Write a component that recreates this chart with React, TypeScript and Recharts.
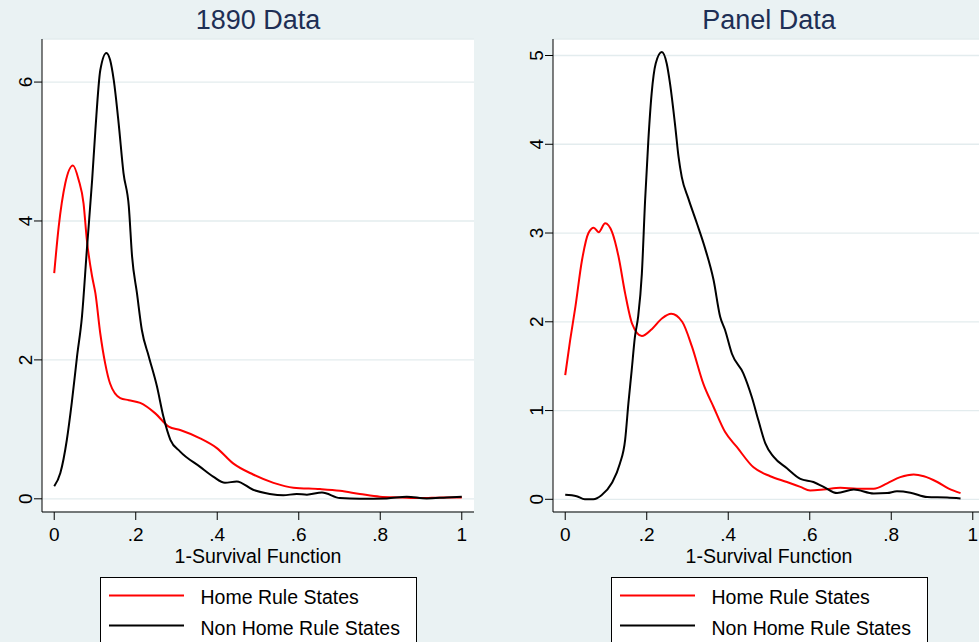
import React from "react";
import { LineChart, Line, XAxis, YAxis, CartesianGrid, Legend } from "recharts";

// x = 1-survival function, y = kernel density
const home1890X = [0, 0.011, 0.027, 0.046, 0.06, 0.072, 0.08, 0.093, 0.101, 0.113, 0.125, 0.137, 0.162, 0.183, 0.211, 0.248, 0.281, 0.309, 0.358, 0.399, 0.439, 0.488, 0.538, 0.587, 0.652, 0.701, 0.75, 0.799, 0.849, 0.898, 0.955, 1.0];
const home1890Y = [3.25, 3.92, 4.54, 4.8, 4.59, 4.25, 3.73, 3.2, 2.96, 2.38, 1.95, 1.66, 1.45, 1.42, 1.38, 1.23, 1.04, 0.99, 0.87, 0.73, 0.51, 0.35, 0.23, 0.16, 0.14, 0.115, 0.07, 0.03, 0.02, 0.01, 0.02, 0.02];

const nonHome1890X = [0, 0.015, 0.031, 0.043, 0.056, 0.068, 0.08, 0.093, 0.101, 0.113, 0.128, 0.137, 0.146, 0.158, 0.17, 0.183, 0.191, 0.203, 0.215, 0.232, 0.252, 0.268, 0.285, 0.309, 0.358, 0.39, 0.419, 0.448, 0.488, 0.529, 0.562, 0.595, 0.62, 0.657, 0.701, 0.75, 0.816, 0.865, 0.914, 0.963, 1.0];
const nonHome1890Y = [0.18, 0.37, 0.85, 1.38, 2.05, 2.62, 3.58, 4.59, 5.31, 6.17, 6.42, 6.32, 6.03, 5.41, 4.69, 4.21, 3.49, 2.96, 2.43, 2.05, 1.62, 1.18, 0.85, 0.68, 0.46, 0.32, 0.23, 0.25, 0.13, 0.07, 0.05, 0.07, 0.06, 0.09, 0.01, 0.0, 0.005, 0.03, 0.005, 0.02, 0.03];

const homePanelX = [0, 0.012, 0.025, 0.041, 0.057, 0.07, 0.082, 0.098, 0.115, 0.131, 0.147, 0.164, 0.188, 0.213, 0.238, 0.26, 0.287, 0.311, 0.339, 0.364, 0.392, 0.421, 0.462, 0.503, 0.544, 0.577, 0.601, 0.634, 0.675, 0.716, 0.757, 0.79, 0.822, 0.855, 0.88, 0.913, 0.941, 0.97];
const homePanelY = [1.4, 1.79, 2.17, 2.69, 3.0, 3.06, 3.01, 3.11, 3.01, 2.73, 2.32, 1.98, 1.84, 1.92, 2.04, 2.09, 2.0, 1.72, 1.3, 1.04, 0.76, 0.59, 0.36, 0.26, 0.195, 0.14, 0.1, 0.11, 0.13, 0.12, 0.12, 0.18, 0.25, 0.28, 0.26, 0.195, 0.12, 0.07];

const nonHomePanelX = [0, 0.028, 0.048, 0.069, 0.089, 0.114, 0.134, 0.147, 0.155, 0.163, 0.171, 0.179, 0.188, 0.196, 0.204, 0.212, 0.222, 0.237, 0.249, 0.257, 0.27, 0.278, 0.286, 0.302, 0.323, 0.343, 0.364, 0.38, 0.392, 0.409, 0.437, 0.458, 0.474, 0.491, 0.511, 0.544, 0.577, 0.609, 0.634, 0.667, 0.708, 0.757, 0.79, 0.814, 0.847, 0.888, 0.937, 0.97];
const nonHomePanelY = [0.05, 0.035, 0.0, 0.0, 0.045, 0.18, 0.4, 0.67, 1.08, 1.45, 1.83, 2.06, 2.54, 3.37, 4.05, 4.57, 4.91, 5.04, 4.91, 4.69, 4.2, 3.86, 3.63, 3.39, 3.11, 2.83, 2.47, 2.06, 1.91, 1.64, 1.42, 1.15, 0.89, 0.63, 0.48, 0.35, 0.23, 0.195, 0.14, 0.07, 0.11, 0.065, 0.07, 0.09, 0.075, 0.026, 0.02, 0.01];

const xTicks = [0, 0.2, 0.4, 0.6, 0.8, 1];
const yTicks1890 = [0, 2, 4, 6];
const yTicksPanel = [0, 1, 2, 3, 4, 5];

const seriesNames = ["Home Rule States", "Non Home Rule States"];

const FONT = '"Liberation Sans", Arial, Helvetica, sans-serif';
const BG = "#EAF2F3";
const TITLE_COLOR = "#1E2F55";

const zip = (xs: number[], ys: number[]) => xs.map((x, i) => ({ x, y: ys[i] }));

const fmtX = (v: number) => (v === 0 ? "0" : v === 1 ? "1" : String(v).replace(/^0/, ""));

function YTick(props: any) {
  const { x, y, payload } = props;
  const bx = x + 7;
  return (
    <text
      x={bx}
      y={y}
      transform={`rotate(-90 ${bx} ${y})`}
      textAnchor="middle"
      fontSize={19}
      fill="#000"
    >
      {payload.value}
    </text>
  );
}

function LegendBox(props: any) {
  const items = props.payload || [];
  return (
    <div
      style={{
        width: 317,
        height: 80,
        boxSizing: "border-box",
        border: "1px solid #000",
        background: "#fff",
      }}
    >
      <svg width={315} height={78} style={{ display: "block" }}>
        {items.map((item: any, i: number) => (
          <g key={item.value}>
            <line x1={8} x2={83} y1={17.5 + i * 30} y2={17.5 + i * 30} stroke={item.color} strokeWidth={2} />
            <text x={99.5} y={25.8 + i * 31} fontSize={19.5} fill="#000" fontFamily={FONT}>
              {item.value}
            </text>
          </g>
        ))}
      </svg>
    </div>
  );
}

interface PanelProps {
  title: string;
  left: number;
  width: number;
  yAxisWidth: number;
  marginRight: number;
  yDomain: [number, number];
  yTicks: number[];
  home: { x: number; y: number }[];
  nonHome: { x: number; y: number }[];
}

function Panel({ title, left, width, yAxisWidth, marginRight, yDomain, yTicks, home, nonHome }: PanelProps) {
  const plotCenter = yAxisWidth + 216;
  return (
    <div style={{ position: "absolute", left, top: 0, width, height: 642 }}>
      <div
        style={{
          position: "absolute",
          left: plotCenter - 150,
          width: 300,
          top: 7,
          textAlign: "center",
          fontSize: 27,
          lineHeight: "27px",
          color: TITLE_COLOR,
        }}
      >
        {title}
      </div>
      <LineChart
        width={width}
        height={642}
        margin={{ top: 39, right: marginRight, left: 0, bottom: 70 }}
      >
        <CartesianGrid
          vertical={false}
          stroke="#E3ECEE"
          strokeWidth={1.3}
          fill="#fff"
          fillOpacity={1}
        />
        <XAxis
          dataKey="x"
          type="number"
          domain={[-0.03, 1.03]}
          ticks={xTicks}
          allowDataOverflow
          tickFormatter={fmtX}
          height={60}
          tickSize={8}
          tickMargin={8}
          stroke="#000"
          tick={{ fill: "#000", fontSize: 19 }}
          label={{ value: "1-Survival Function", position: "insideBottom", offset: 9.5, fill: "#000", fontSize: 19.5 }}
        />
        <YAxis
          type="number"
          domain={yDomain}
          ticks={yTicks}
          allowDataOverflow
          width={yAxisWidth}
          tickSize={8}
          tickMargin={9}
          stroke="#000"
          tick={<YTick />}
        />
        <Line
          data={home}
          dataKey="y"
          name={seriesNames[0]}
          type="monotone"
          stroke="#FF0000"
          strokeWidth={2}
          dot={false}
          isAnimationActive={false}
        />
        <Line
          data={nonHome}
          dataKey="y"
          name={seriesNames[1]}
          type="monotone"
          stroke="#000000"
          strokeWidth={2}
          dot={false}
          isAnimationActive={false}
        />
        <Legend
          layout="vertical"
          align="center"
          verticalAlign="middle"
          content={<LegendBox />}
          wrapperStyle={{ left: plotCenter - 158.5, top: 576.7, width: 317, height: 80 }}
        />
      </LineChart>
    </div>
  );
}

export default function App() {
  return (
    <div
      style={{
        position: "absolute",
        left: 0,
        top: 0,
        width: 979,
        height: 642,
        overflow: "hidden",
        background: BG,
        fontFamily: FONT,
      }}
    >
      <Panel
        title="1890 Data"
        left={0}
        width={490}
        yAxisWidth={42}
        marginRight={16}
        yDomain={[-0.19, 6.62]}
        yTicks={yTicks1890}
        home={zip(home1890X, home1890Y)}
        nonHome={zip(nonHome1890X, nonHome1890Y)}
      />
      <Panel
        title="Panel Data"
        left={490}
        width={500}
        yAxisWidth={63}
        marginRight={5}
        yDomain={[-0.143, 5.186]}
        yTicks={yTicksPanel}
        home={zip(homePanelX, homePanelY)}
        nonHome={zip(nonHomePanelX, nonHomePanelY)}
      />
    </div>
  );
}
